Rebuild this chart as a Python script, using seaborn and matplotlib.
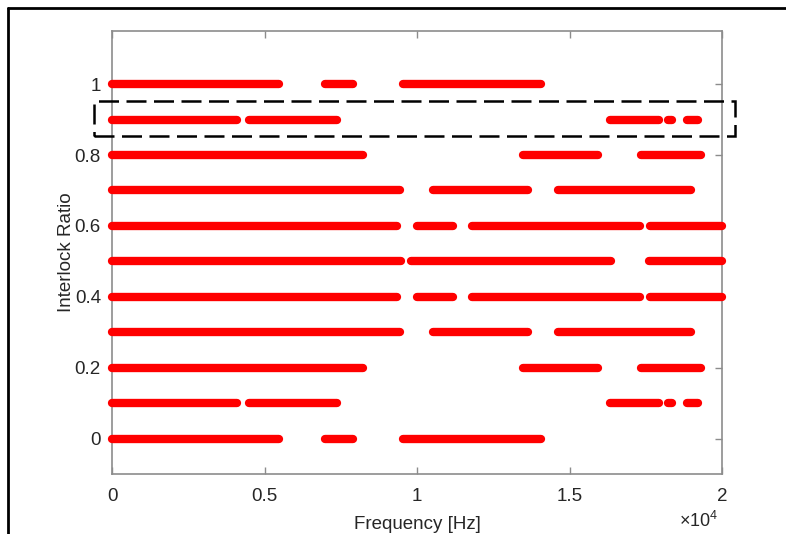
import pandas as pd
import matplotlib.pyplot as plt
import seaborn as sns
from matplotlib.patches import Rectangle
from matplotlib.lines import Line2D

# segments (start, end) in Hz for each interlock ratio
row_0 = [(0, 5480), (6980, 7900), (9540, 14070)]
row_1 = [(0, 4100), (4490, 7380), (16330, 17930), (18230, 18360), (18850, 19210)]
row_2 = [(0, 8230), (13480, 15930), (17340, 19310)]
row_3 = [(0, 9440), (10520, 13640), (14620, 18980)]
row_4 = [(0, 9340), (10000, 11180), (11800, 17310), (17640, 20000)]
row_5 = [(0, 9480), (9800, 16360), (17610, 20000)]

ratios = [0.0, 0.1, 0.2, 0.3, 0.4, 0.5, 0.6, 0.7, 0.8, 0.9, 1.0]
rows = [row_0, row_1, row_2, row_3, row_4, row_5, row_4, row_3, row_2, row_1, row_0]

xticks = [0, 5000, 10000, 15000, 20000]
xtick_labels = ['0', '0.5', '1', '1.5', '2']
yticks = [0, 0.2, 0.4, 0.6, 0.8, 1]
ytick_labels = ['0', '0.2', '0.4', '0.6', '0.8', '1']

# highlighted band around ratio 0.9
box_x = (-590, 20430)
box_y = (0.853, 0.952)

# long table for seaborn
recs = []
seg_id = 0
for r, segs in zip(ratios, rows):
    for a, b in segs:
        recs.append({'freq': a, 'ratio': r, 'seg': seg_id})
        recs.append({'freq': b, 'ratio': r, 'seg': seg_id})
        seg_id += 1
df = pd.DataFrame(recs)

sns.set_style('ticks')
plt.rcParams['font.family'] = ['Liberation Sans', 'DejaVu Sans']
plt.rcParams['mathtext.fontset'] = 'custom'
plt.rcParams['mathtext.rm'] = 'Liberation Sans'

fig = plt.figure(figsize=(7.86, 5.34), dpi=100)
ax = fig.add_axes([112 / 786, 1 - 474 / 534, 610 / 786, 443 / 534])

sns.lineplot(data=df, x='freq', y='ratio', units='seg', estimator=None, sort=False,
             color='#ff0000', lw=6, solid_capstyle='round', clip_on=False,
             ax=ax, legend=False)

ax.add_patch(Rectangle((box_x[0], box_y[0]), box_x[1] - box_x[0], box_y[1] - box_y[0],
                       fill=False, ec='black', lw=1.8, ls=(0, (8, 3)), clip_on=False, zorder=5))

ax.set_xlim(0, 20000)
ax.set_ylim(-0.1, 1.15)
ax.set_xticks(xticks)
ax.set_xticklabels(xtick_labels)
ax.set_yticks(yticks)
ax.set_yticklabels(ytick_labels)

for s in ax.spines.values():
    s.set_visible(True)
    s.set_color('#8c8c8c')
    s.set_linewidth(1.2)
    s.set_zorder(1)
ax.tick_params(direction='in', length=5, width=1, color='#8c8c8c', labelcolor='#262626',
               labelsize=13.5, top=True, right=True, pad=8)
ax.tick_params(axis='x', pad=10)

ax.set_xlabel('Frequency [Hz]', fontsize=13.5, color='#262626', labelpad=8)
ax.set_ylabel('Interlock Ratio', fontsize=13.5, color='#262626', labelpad=0)
fig.text(699 / 786, 1 - 521 / 534, r'$\times\mathregular{10^4}$', fontsize=13,
         color='#262626', ha='center', va='center')

# outer frame of the original screenshot
fig.add_artist(Line2D([8 / 786, 8 / 786], [0, 1 - 8 / 534], color='black', lw=2))
fig.add_artist(Line2D([8 / 786, 1], [1 - 8 / 534, 1 - 8 / 534], color='black', lw=2))

plt.savefig('out.png', dpi=100)
